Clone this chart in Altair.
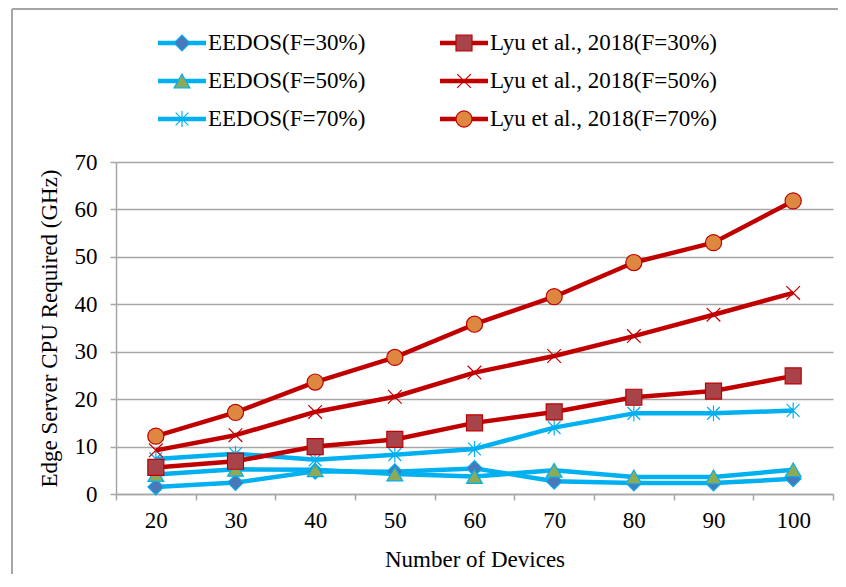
import altair as alt
import pandas as pd

# ---------------- data ----------------
devices = [20, 30, 40, 50, 60, 70, 80, 90, 100]
series_names = [
    "EEDOS(F=30%)",
    "EEDOS(F=50%)",
    "EEDOS(F=70%)",
    "Lyu et al., 2018(F=30%)",
    "Lyu et al., 2018(F=50%)",
    "Lyu et al., 2018(F=70%)",
]
eedos_30 = [1.5, 2.4, 4.8, 4.7, 5.4, 2.7, 2.3, 2.3, 3.2]
eedos_50 = [4.1, 5.2, 5.1, 4.2, 3.7, 5.0, 3.6, 3.6, 5.1]
eedos_70 = [7.4, 8.5, 7.2, 8.3, 9.5, 14.0, 17.0, 17.0, 17.6]
lyu_30 = [5.6, 6.9, 10.0, 11.5, 15.0, 17.3, 20.4, 21.7, 24.9]
lyu_50 = [9.2, 12.4, 17.3, 20.5, 25.6, 29.1, 33.3, 37.8, 42.4]
lyu_70 = [12.2, 17.2, 23.6, 28.8, 35.8, 41.6, 48.8, 53.0, 61.8]
y_ticks = [0, 10, 20, 30, 40, 50, 60, 70]

# legend layout (column / row of each entry)
legend_col = [0, 0, 0, 1, 1, 1]
legend_row = [0, 1, 2, 0, 1, 2]

# ---------------- styles ----------------
BLUE = "#00B0F0"
RED = "#C00000"
line_colors = [BLUE, BLUE, BLUE, RED, RED, RED]
ASTERISK = "M0,-1L0,1M-0.8,-0.8L0.8,0.8M-0.8,0.8L0.8,-0.8"
XMARK = "M-0.85,-0.85L0.85,0.85M-0.85,0.85L0.85,-0.85"
marker_shapes = ["diamond", "triangle-up", ASTERISK, "square", XMARK, "circle"]
marker_fills = ["#4A78B8", "#8FAA55", "transparent", "#A8434A", "transparent", "#DE8741"]
marker_strokes = [BLUE, BLUE, BLUE, RED, RED, RED]
marker_widths = [1.2, 1.2, 2.0, 1.5, 2.0, 1.5]
marker_sizes = [250, 260, 280, 220, 210, 220]

FONT = "Liberation Serif"
FS = 23
GRAY = "#A6A6A6"
W, H = 717, 332
PAD = {"left": 108, "top": 154, "right": 5, "bottom": 80}

rows = []
for name, vals in zip(series_names, [eedos_30, eedos_50, eedos_70, lyu_30, lyu_50, lyu_70]):
    for d, v in zip(devices, vals):
        rows.append({"Series": name, "Devices": d, "Value": v})
df = pd.DataFrame(rows)
leg = pd.DataFrame({"Series": series_names, "col": legend_col, "row": legend_row})

color_enc = alt.Color("Series:N", scale=alt.Scale(domain=series_names, range=line_colors), legend=None)
shape_enc = alt.Shape("Series:N", scale=alt.Scale(domain=series_names, range=marker_shapes), legend=None)
fill_enc = alt.Fill("Series:N", scale=alt.Scale(domain=series_names, range=marker_fills), legend=None)
stroke_enc = alt.Stroke("Series:N", scale=alt.Scale(domain=series_names, range=marker_strokes), legend=None)
sw_enc = alt.StrokeWidth("Series:N", scale=alt.Scale(domain=series_names, range=marker_widths), legend=None)
size_enc = alt.Size("Series:N", scale=alt.Scale(domain=series_names, range=marker_sizes), legend=None)

x_enc = alt.X(
    "Devices:O",
    title="Number of Devices",
    sort=devices,
    scale=alt.Scale(type="band", paddingInner=0, paddingOuter=0),
    axis=alt.Axis(
        tickBand="extent", labelAngle=0, grid=False,
        labelFont=FONT, labelFontSize=FS, labelColor="black",
        labelBaseline="alphabetic", labelPadding=27,
        tickSize=6, tickColor=GRAY, tickWidth=1.5,
        domainColor=GRAY, domainWidth=1.5,
        titleFont=FONT, titleFontSize=FS, titleFontWeight="normal", titleColor="black",
        titleBaseline="alphabetic", titleY=72,
    ),
)
y_enc = alt.Y(
    "Value:Q",
    title="Edge Server CPU Required (GHz)",
    scale=alt.Scale(domain=[0, 70], nice=False),
    axis=alt.Axis(
        values=y_ticks, grid=True, gridColor=GRAY, gridWidth=1.5,
        labelFont=FONT, labelFontSize=FS, labelColor="black", labelPadding=13,
        tickSize=6, tickColor=GRAY, tickWidth=1.5,
        domainColor=GRAY, domainWidth=1.5,
        titleFont=FONT, titleFontSize=FS, titleFontWeight="normal", titleColor="black",
        titleAngle=270, titleBaseline="alphabetic", titleAlign="center",
        titleX=-60, titleY=H / 2,
    ),
)

lines = alt.Chart(df).mark_line(strokeWidth=4.5, strokeJoin="round").encode(
    x=x_enc, y=y_enc, color=color_enc, detail="Series:N"
)
points = alt.Chart(df).mark_point(filled=True, opacity=1).encode(
    x=alt.X("Devices:O", sort=devices), y="Value:Q",
    shape=shape_enc, fill=fill_enc, stroke=stroke_enc, strokeWidth=sw_enc, size=size_enc,
)
main = alt.layer(lines, points)

lx = alt.X("col:Q", scale=alt.Scale(domain=[0, 1], range=[42, 324]), axis=None)
ly = alt.Y("row:Q", scale=alt.Scale(domain=[0, 2], range=[-119, -43]), axis=None)
leg_rule = alt.Chart(leg).mark_rule(strokeWidth=4.5, x2Offset=48).encode(
    x=lx, x2=alt.X2("col:Q"), y=ly, color=color_enc
)
leg_pt = alt.Chart(leg).mark_point(filled=True, opacity=1, xOffset=24).encode(
    x=lx, y=ly, shape=shape_enc, fill=fill_enc, stroke=stroke_enc, strokeWidth=sw_enc, size=size_enc
)
leg_txt = alt.Chart(leg).mark_text(
    align="left", baseline="middle", dx=50, font=FONT, fontSize=FS, color="black"
).encode(x=lx, y=ly, text="Series:N")
legend = alt.layer(leg_rule, leg_pt, leg_txt)

# chart-area frame: left and top edges only (the others lie beyond the picture)
border_df = pd.DataFrame({"b": [0]})
frame_left = alt.Chart(border_df).mark_rule(color=GRAY, strokeWidth=2).encode(
    x=alt.value(-104), y=alt.value(-153), y2=alt.value(H + PAD["bottom"])
)
frame_top = alt.Chart(border_df).mark_rule(color=GRAY, strokeWidth=2).encode(
    x=alt.value(-104), x2=alt.value(W + PAD["right"]), y=alt.value(-153)
)

chart = alt.layer(main, legend, frame_left, frame_top).resolve_scale(
    x="independent", y="independent"
).properties(
    width=W, height=H,
    autosize=alt.AutoSizeParams(type="none"),
    padding=PAD,
).configure_view(stroke=None)

chart.save("out.html", embed_options={"renderer": "svg", "actions": False})
